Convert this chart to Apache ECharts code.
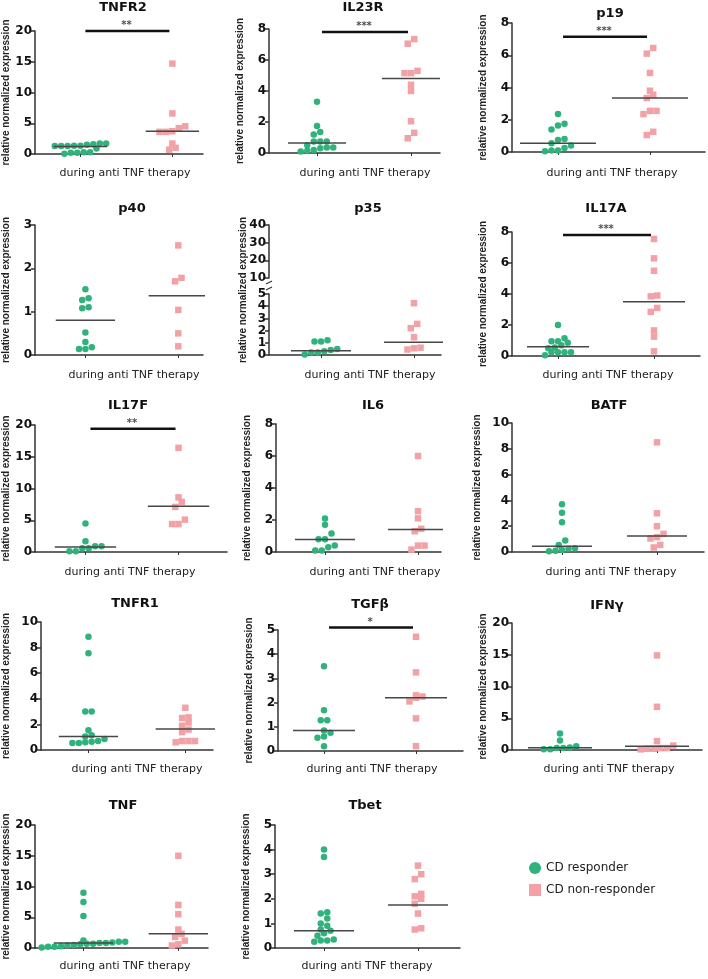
<!DOCTYPE html>
<html><head><meta charset="utf-8">
<script src="https://cdn.jsdelivr.net/npm/echarts@6/dist/echarts.min.js"></script>
<style>html,body{margin:0;padding:0;background:#fff}#c{width:708px;height:979px}</style>
</head><body><div id="c"></div>
<script>
// ---------- DATA ----------
const panelNames = ['TNFR2','IL23R','p19','p40','p35','IL17A','IL17F','IL6','BATF','TNFR1','TGFβ','IFNγ','TNF','Tbet'];
const yMax      = [20, 8, 8, 3, 5, 8, 20, 8, 10, 10, 5, 20, 20, 5];
const yInterval = [5, 2, 2, 1, 1, 2, 5, 2, 2, 2, 1, 5, 5, 1];
const sigLabels = ['**','***','***','','','***','**','','','','*','','',''];
const p35UpperTicks = [10, 20, 30, 40];

const resp_TNFR2 = [1.7,1.6,1.35,1.35,1.3,1.3,1.3,1.5,1.7,0.9,0.3,0.2,0.05,0.2,0.3];
const non_TNFR2  = [14.7,6.6,4.2,4.5,3.6,3.6,3.7,1.7,0.7,1.0];
const resp_IL23R = [3.3,1.75,1.35,1.2,0.75,0.75,0.75,0.5,0.35,0.35,0.3,0.2,0.1,0.15];
const non_IL23R  = [7.35,7.05,5.3,5.15,5.15,4.4,4.0,2.05,1.3,0.95];
const resp_p19   = [2.35,1.75,1.65,1.4,0.8,0.75,0.55,0.4,0.25,0.1,0.05,0.1];
const non_p19    = [6.45,6.1,4.9,3.8,3.55,3.35,2.55,2.55,2.35,1.25,1.05];
const resp_p40   = [1.52,1.31,1.27,1.1,1.08,0.52,0.3,0.18,0.14,0.14];
const non_p40    = [2.53,1.78,1.7,1.04,0.5,0.2];
const resp_p35   = [1.2,1.1,1.1,0.5,0.4,0.3,0.2,0.05,0.2];
const non_p35    = [4.25,2.55,2.2,1.45,0.6,0.55,0.45];
const resp_IL17A = [2.0,1.15,0.95,0.95,0.85,0.7,0.55,0.5,0.25,0.25,0.25,0.25,0.05];
const non_IL17A  = [7.55,6.3,5.5,3.9,3.85,3.1,2.85,1.65,1.25,0.3];
const resp_IL17F = [4.5,1.7,0.9,0.9,0.6,0.6,0.1,0.1];
const non_IL17F  = [16.4,8.6,7.9,7.1,5.1,4.4,4.4];
const resp_IL6   = [2.1,1.7,1.15,0.8,0.8,0.4,0.3,0.1,0.1];
const non_IL6    = [6.0,2.55,2.1,1.45,1.3,0.4,0.4,0.15];
const resp_BATF  = [3.7,3.05,2.3,0.9,0.55,0.3,0.25,0.15,0.1,0.05];
const non_BATF   = [8.5,3.0,2.0,1.4,1.15,1.05,0.55,0.35];
const resp_TNFR1 = [8.85,7.55,3.0,3.0,1.55,1.15,1.05,0.85,0.7,0.6,0.55,0.55,0.65];
const non_TNFR1  = [3.3,2.55,2.5,2.15,1.9,1.6,1.4,0.7,0.6,0.7,0.7];
const resp_TGFb  = [3.5,1.68,1.27,1.27,0.85,0.75,0.6,0.55,0.2];
const non_TGFb   = [4.72,3.25,2.3,2.25,2.2,2.05,1.35,0.2];
const resp_IFNg  = [2.6,1.5,0.6,0.4,0.3,0.3,0.1,0.1];
const non_IFNg   = [14.9,6.8,1.4,0.7,0.3,0.2,0.1,0.2,0.3];
const resp_TNF   = [9.0,7.5,5.2,1.2,1.0,1.0,0.9,0.8,0.8,0.7,0.7,0.6,0.5,0.4,0.3,0.2,0.2,0.1];
const non_TNF    = [15.0,7.0,5.5,3.0,2.3,1.8,1.2,0.6,0.4];
const resp_Tbet  = [4.0,3.7,1.45,1.4,1.2,1.0,0.9,0.75,0.7,0.6,0.5,0.35,0.3,0.3,0.25];
const non_Tbet   = [3.35,3.0,2.8,2.2,2.1,2.0,1.8,1.4,0.8,0.75];

const medianResp = [1.2,0.65,0.55,0.8,0.35,0.6,0.8,0.78,0.45,1.05,0.85,0.35,0.8,0.7];
const medianNon  = [3.7,4.8,3.35,1.37,1.05,3.5,7.2,1.4,1.25,1.65,2.2,0.6,2.3,1.75];

const respData = [resp_TNFR2,resp_IL23R,resp_p19,resp_p40,resp_p35,resp_IL17A,resp_IL17F,resp_IL6,resp_BATF,resp_TNFR1,resp_TGFb,resp_IFNg,resp_TNF,resp_Tbet];
const nonData  = [non_TNFR2,non_IL23R,non_p19,non_p40,non_p35,non_IL17A,non_IL17F,non_IL6,non_BATF,non_TNFR1,non_TGFb,non_IFNg,non_TNF,non_Tbet];

// ---------- LAYOUT (pixels) ----------
// [left, top, width, height, greenCenterX, pinkCenterX, medianHalfWidth, titleX, titleY, xLabelY, sigLevel, nameGap]
const layout = [
  [33, 31, 170, 123,  79, 172, 27, 123,   8, 173, 20,   24],
  [269, 29, 171, 124, 317, 411, 29, 363,   8, 173, 7.8,  24],
  [512, 23, 193, 129, 558, 650, 38, 610,  14, 173, 7.15, 24],
  [33, 225, 170, 130,  84, 178, 30, 132, 209, 375, null, 24],
  [269, 294, 172, 61, 321, 414, 30, 368, 209, 375, null, 24],
  [512, 232, 188, 124, 558, 654, 31, 606, 209, 375, 7.8,  24],
  [33, 425, 194, 127,  84, 178, 31, 128, 406, 572, 19.4, 24],
  [276, 424, 165, 128, 325, 418, 30, 373, 406, 572, null, 24],
  [512, 423, 192, 129, 562, 657, 30, 609, 406, 572, null, 30],
  [39, 622, 174, 128,  87, 185, 30, 135, 604, 769, null, 30],
  [278, 630, 185, 121, 324, 416, 31, 370, 605, 769, 5.1,  24],
  [512, 623, 190, 127, 560, 657, 32, 607, 606, 769, null, 24],
  [33, 825, 175, 123,  82, 178, 30, 123, 806, 966, null, 24],
  [275, 825, 185, 123, 324, 418, 30, 365, 806, 966, null, 24]
];
const p35Upper = [269, 225, 172, 53];

const GREEN = '#2fb27b', PINK = '#f2a2a6', MED = '#474747', AX = '#333';
const tickFont = {fontFamily:'DejaVu Sans', fontWeight:'bold', fontSize:12, color:'#111'};
const DOT = 6.5, GAP = 6.5, TOL = 6;

// simple binned dot-plot layout: values closer than TOL pixels share a row and are spread horizontally
function swarm(values, ymax, h, cx) {
  const pts = values.map(v => ({v, py: v / ymax * h})).sort((a, b) => a.py - b.py);
  const rows = []; let cur = null;
  pts.forEach(p => { if (cur && p.py - cur[0].py < TOL) cur.push(p); else { cur = [p]; rows.push(cur); } });
  const out = [];
  rows.forEach(r => r.forEach((p, i) => out.push([cx + (i - (r.length - 1) / 2) * GAP, p.v])));
  return out;
}

const grids = [], xAxes = [], yAxes = [], series = [], graphics = [];
panelNames.forEach((name, i) => {
  const [L, T, W, H, gx, px, hw, tx, ty, xly, sig, ng] = layout[i];
  grids.push({left: L, top: T, width: W, height: H});
  const cg = gx - L, cp = px - L;
  xAxes.push({gridIndex: i, type: 'value', min: 0, max: W,
    axisLine: {show: true, onZero: false, lineStyle: {color: AX, width: 1.5}},
    axisTick: {show: true, customValues: [cg, cp], length: 3, lineStyle: {color: AX, width: 1}},
    axisLabel: {show: false}, splitLine: {show: false}});
  yAxes.push({gridIndex: i, type: 'value', min: 0, max: yMax[i], interval: yInterval[i],
    name: i === 4 ? '' : 'relative normalized expression', nameLocation: 'middle', nameGap: ng,
    nameTextStyle: {fontFamily: 'Liberation Sans', fontWeight: 'bold', fontSize: 10, color: '#222'},
    axisLine: {show: true, lineStyle: {color: AX, width: 1.5}},
    axisTick: {show: true, length: 4, lineStyle: {color: AX, width: 1.5}},
    axisLabel: Object.assign({margin: 3}, tickFont), splitLine: {show: false}});
  series.push({type: 'scatter', name: 'CD responder', xAxisIndex: i, yAxisIndex: i, symbol: 'circle', symbolSize: DOT,
    itemStyle: {color: GREEN, opacity: 1}, data: swarm(respData[i], yMax[i], H, cg), z: 3});
  series.push({type: 'scatter', name: 'CD non-responder', xAxisIndex: i, yAxisIndex: i, symbol: 'rect', symbolSize: DOT,
    itemStyle: {color: PINK, opacity: 1}, data: swarm(nonData[i], yMax[i], H, cp), z: 3});
  series.push({type: 'line', xAxisIndex: i, yAxisIndex: i, symbol: 'none', silent: true, z: 4,
    lineStyle: {color: MED, width: 1.5}, data: [[cg - hw, medianResp[i]], [cg + hw, medianResp[i]]]});
  series.push({type: 'line', xAxisIndex: i, yAxisIndex: i, symbol: 'none', silent: true, z: 4,
    lineStyle: {color: MED, width: 1.5}, data: [[cp - hw, medianNon[i]], [cp + hw, medianNon[i]]]});
  if (sigLabels[i]) {
    series.push({type: 'line', xAxisIndex: i, yAxisIndex: i, symbol: 'none', silent: true, clip: false,
      lineStyle: {color: '#111', width: 2.5}, data: [[cg + 5, sig], [cp - 3, sig]]});
    series.push({type: 'scatter', xAxisIndex: i, yAxisIndex: i, symbolSize: 1, silent: true, clip: false,
      itemStyle: {color: 'rgba(0,0,0,0)'},
      label: {show: true, position: 'top', distance: 0, formatter: sigLabels[i],
        fontFamily: 'DejaVu Sans', fontWeight: 'bold', fontSize: 10, color: '#222'},
      data: [[(cg + cp) / 2, sig]]});
  }
  graphics.push({type: 'text', x: tx, y: ty, style: {text: name, textAlign: 'center', textVerticalAlign: 'middle',
    font: 'bold 13px "DejaVu Sans"', fill: '#111'}});
  graphics.push({type: 'text', x: tx + 2, y: xly, style: {text: 'during anti TNF therapy', textAlign: 'center',
    textVerticalAlign: 'middle', font: '11px "DejaVu Sans"', fill: '#222'}});
});

// p35 upper segment of broken axis
const ui = panelNames.length;
grids.push({left: p35Upper[0], top: p35Upper[1], width: p35Upper[2], height: p35Upper[3]});
xAxes.push({gridIndex: ui, type: 'value', min: 0, max: p35Upper[2], show: false});
yAxes.push({gridIndex: ui, type: 'value', min: p35UpperTicks[0], max: p35UpperTicks[p35UpperTicks.length - 1], interval: 10,
  axisLine: {show: true, lineStyle: {color: AX, width: 1.5}},
  axisTick: {show: true, length: 4, lineStyle: {color: AX, width: 1.5}},
  axisLabel: Object.assign({margin: 3}, tickFont), splitLine: {show: false}});
graphics.push({type: 'text', x: 243, y: 290, rotation: Math.PI / 2,
  style: {text: 'relative normalized expression', textAlign: 'center', textVerticalAlign: 'middle',
    font: 'bold 10px "Liberation Sans"', fill: '#222'}});
graphics.push({type: 'line', shape: {x1: 266, y1: 284, x2: 272, y2: 281}, style: {stroke: AX, lineWidth: 1.2}});
graphics.push({type: 'line', shape: {x1: 266, y1: 290, x2: 272, y2: 287}, style: {stroke: AX, lineWidth: 1.2}});

const chart = echarts.init(document.getElementById('c'), null, {renderer: 'canvas'});
chart.setOption({
  animation: false,
  grid: grids, xAxis: xAxes, yAxis: yAxes, series: series, graphic: graphics,
  legend: {orient: 'vertical', left: 524, top: 857, itemWidth: 12, itemHeight: 12, itemGap: 10,
    textStyle: {fontFamily: 'DejaVu Sans', fontSize: 12, color: '#222'},
    data: [{name: 'CD responder', icon: 'circle'}, {name: 'CD non-responder', icon: 'rect'}]}
});
</script></body></html>
